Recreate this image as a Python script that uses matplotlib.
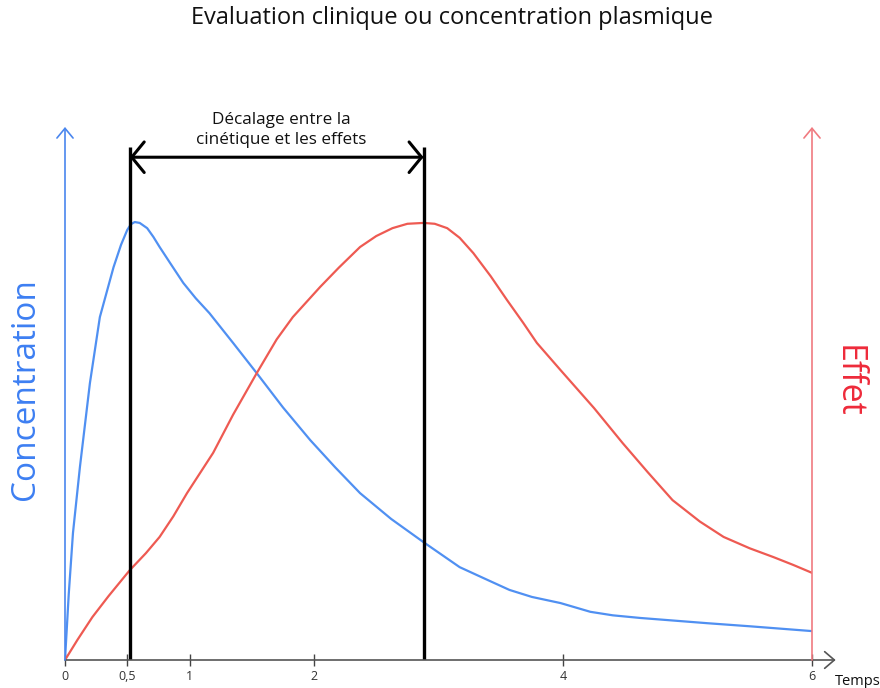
import matplotlib.pyplot as plt

# data (y on a 0-100 scale, peak = 100)
temps_conc = [0, 0.03, 0.064, 0.12, 0.20, 0.28, 0.39, 0.45, 0.50, 0.53, 0.56, 0.60,
              0.66, 0.71, 0.76, 0.85, 0.95, 1.05, 1.16, 1.35, 1.54, 1.75, 1.97,
              2.17, 2.37, 2.62, 2.88, 3.17, 3.4, 3.57, 3.75, 3.98, 4.22, 4.4,
              4.62, 5.16, 5.5, 6.0]
concentration = [0, 15.0, 29.0, 44.1, 63.2, 78.3, 89.7, 94.8, 98.2, 99.5, 100, 99.8,
                 98.6, 96.6, 94.3, 90.4, 86.1, 82.6, 79.2, 72.4, 65.5, 57.7, 50.2,
                 44.0, 38.1, 32.2, 26.9, 21.2, 18.2, 16.0, 14.4, 13.0, 11.0, 10.2,
                 9.6, 8.4, 7.7, 6.6]

temps_effet = [0, 0.1, 0.22, 0.35, 0.52, 0.65, 0.76, 0.87, 0.98, 1.19, 1.35, 1.54,
               1.7, 1.83, 2.05, 2.2, 2.37, 2.5, 2.63, 2.75, 2.88, 2.97, 3.07, 3.17,
               3.28, 3.42, 3.55, 3.68, 3.79, 3.98, 4.25, 4.48, 4.68, 4.88, 5.1,
               5.29, 5.5, 5.69, 5.85, 6.0]
effet = [0, 4.6, 9.8, 14.6, 20.5, 24.4, 28.1, 32.8, 38.1, 47.3, 56.0, 65.5,
         73.2, 78.3, 85.2, 89.6, 94.3, 96.8, 98.6, 99.6, 99.8, 99.6, 98.6, 96.4,
         92.9, 87.6, 82.2, 77.0, 72.4, 66.2, 57.5, 49.5, 42.9, 36.5, 31.6,
         28.1, 25.5, 23.5, 21.7, 19.9]

xticks = [0, 0.5, 1, 2, 4, 6]
xtick_labels = ["0", "0,5", "1", "2", "4", "6"]
t_pic_conc = 0.52
t_pic_effet = 2.88

blue = "#5090f2"
red = "#ee5a52"

plt.rcParams["font.family"] = ["Open Sans", "DejaVu Sans"]

fig = plt.figure(figsize=(8.8, 6.88), dpi=100)
ax = fig.add_axes([65 / 880, 28 / 688, 747 / 880, 533 / 688])
ax.set_xlim(0, 6)
ax.set_ylim(0, 121.7)
for s in ax.spines.values():
    s.set_visible(False)

ax.plot(temps_conc, concentration, color=blue, lw=1.6, solid_joinstyle="round")
ax.plot(temps_effet, effet, color=red, lw=1.6, solid_joinstyle="round")

# axes drawn as arrows
ax.annotate("", xy=(6.19, 0), xytext=(0, 0), annotation_clip=False,
            arrowprops=dict(arrowstyle="->,head_length=0.7,head_width=0.6",
                            color="#555555", lw=1.2, mutation_scale=10,
                            shrinkA=0, shrinkB=0))
ax.annotate("", xy=(0, 121.7), xytext=(0, 0), annotation_clip=False,
            arrowprops=dict(arrowstyle="->,head_length=0.7,head_width=0.58",
                            color="#4a86ee", lw=1.2, mutation_scale=10,
                            shrinkA=0, shrinkB=0))
ax.annotate("", xy=(6, 121.7), xytext=(6, 0), annotation_clip=False,
            arrowprops=dict(arrowstyle="->,head_length=0.7,head_width=0.58",
                            color="#f07a80", lw=1.2, mutation_scale=10,
                            shrinkA=0, shrinkB=0))

ax.set_xticks(xticks)
ax.set_xticklabels(xtick_labels)
ax.set_yticks([])
ax.tick_params(axis="x", direction="inout", length=9, width=1, color="#444444",
               pad=3, labelsize=9, labelcolor="#333333")

# decalage
ax.vlines([t_pic_conc, t_pic_effet], 0, 117.1, color="black", lw=2.4)
ax.annotate("", xy=(t_pic_conc, 114.8), xytext=(t_pic_effet, 114.8),
            arrowprops=dict(arrowstyle="<->,head_length=0.45,head_width=0.55",
                            color="black", lw=2.2, mutation_scale=20,
                            shrinkA=0, shrinkB=0))
ax.text(1.74, 116.8, "Décalage entre la\ncinétique et les effets", ha="center",
        va="bottom", fontsize=12.3, linespacing=1.4, color="#111111")

ax.text(6.18, -5.0, "Temps", ha="left", va="center", fontsize=10.5, color="#111111")

fig.text(452 / 880, 1 - 18 / 688, "Evaluation clinique ou concentration plasmique",
         ha="center", va="center", fontsize=17, color="#111111")
fig.text(25 / 880, 1 - 389 / 688, "Concentration", rotation=90, ha="center",
         va="center", fontsize=24, color="#3d7ff2")
fig.text(848 / 880, 1 - 381 / 688, "Effet", rotation=-90, ha="center",
         va="center", fontsize=24.5, color="#ee2a3a")

fig.savefig("out.png", dpi=100)
